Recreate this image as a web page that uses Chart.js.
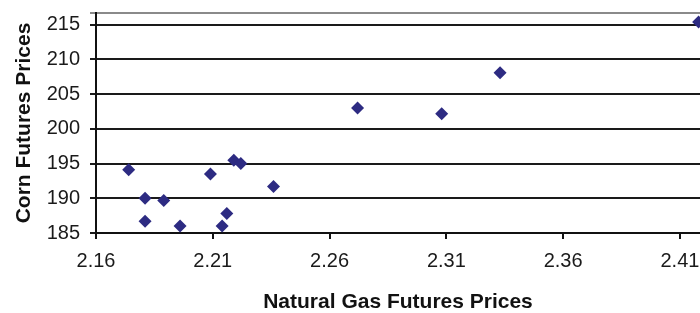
<!DOCTYPE html>
<html><head><meta charset="utf-8">
<script src="https://cdn.jsdelivr.net/npm/chart.js@4"></script>
<style>html,body{margin:0;padding:0;background:#fff;overflow:hidden}#wrap{width:700px;height:313px;position:relative;overflow:hidden}canvas{display:block}</style>
</head><body><div id="wrap"><canvas id="c" width="700" height="313"></canvas></div>
<script>
const gasPrices  = [2.174, 2.181, 2.189, 2.181, 2.196, 2.209, 2.219, 2.222, 2.236, 2.216, 2.214, 2.272, 2.308, 2.333, 2.418];
const cornPrices = [194.1, 190.0, 189.7, 186.7, 186.0, 193.5, 195.5, 195.0, 191.7, 187.8, 186.0, 203.0, 202.2, 208.1, 215.4];
const xTickValues = [2.16, 2.21, 2.26, 2.31, 2.36, 2.41];
const yTickValues = [185, 190, 195, 200, 205, 210, 215];
const xRange = [2.16, 2.4186];
const yRange = [185, 216.7];

const FONT = "'Liberation Sans', Arial, sans-serif";
const points = gasPrices.map((x, i) => ({x: x, y: cornPrices[i]}));

new Chart(document.getElementById('c'), {
  type: 'scatter',
  data: { datasets: [{
    data: points,
    pointStyle: 'rectRot',
    pointRadius: 6.5,
    pointHoverRadius: 6.5,
    backgroundColor: '#2d2b82',
    borderColor: '#2d2b82',
    borderWidth: 0
  }]},
  options: {
    responsive: false,
    animation: false,
    events: [],
    layout: { autoPadding: false, padding: { top: 13, right: 0, left: 0, bottom: 0 } },
    plugins: { legend: { display: false }, tooltip: { enabled: false } },
    scales: {
      x: {
        type: 'linear',
        min: xRange[0], max: xRange[1],
        afterBuildTicks: s => { s.ticks = xTickValues.map(v => ({value: v})); },
        afterFit: s => { s.height = 80; s.paddingLeft = 0; s.paddingRight = 0; },
        ticks: { font: { family: FONT, size: 20 }, color: '#1a1a1a', padding: 10, maxRotation: 0,
                 callback: v => v.toFixed(2) },
        grid: { drawOnChartArea: false, drawTicks: true, tickLength: 6, color: '#111', lineWidth: 2 },
        border: { display: true, color: '#111', width: 2 },
        title: { display: true, text: 'Natural Gas Futures Prices', color: '#111',
                 font: { family: FONT, size: 21, weight: 'bold' }, padding: { top: 0, bottom: -2 } }
      },
      y: {
        type: 'linear',
        min: yRange[0], max: yRange[1],
        afterBuildTicks: s => { s.ticks = yTickValues.map(v => ({value: v})).concat([{value: yRange[1]}]); },
        afterFit: s => { s.width = 96; s.paddingTop = 0; s.paddingBottom = 0; },
        ticks: { font: { family: FONT, size: 20 }, color: '#1a1a1a', padding: 10,
                 callback: v => (yTickValues.includes(v) ? String(v) : '') },
        grid: { drawTicks: true, tickLength: 6, lineWidth: 2,
                color: c => (c.tick && c.tick.value === yRange[1]) ? '#8a8a8a' : '#1a1a1a' },
        border: { display: true, color: '#111', width: 2 },
        title: { display: true, text: 'Corn Futures Prices', color: '#111',
                 font: { family: FONT, size: 21, weight: 'bold' }, padding: { top: 12, bottom: 0 } }
      }
    }
  }
});
</script></body></html>
